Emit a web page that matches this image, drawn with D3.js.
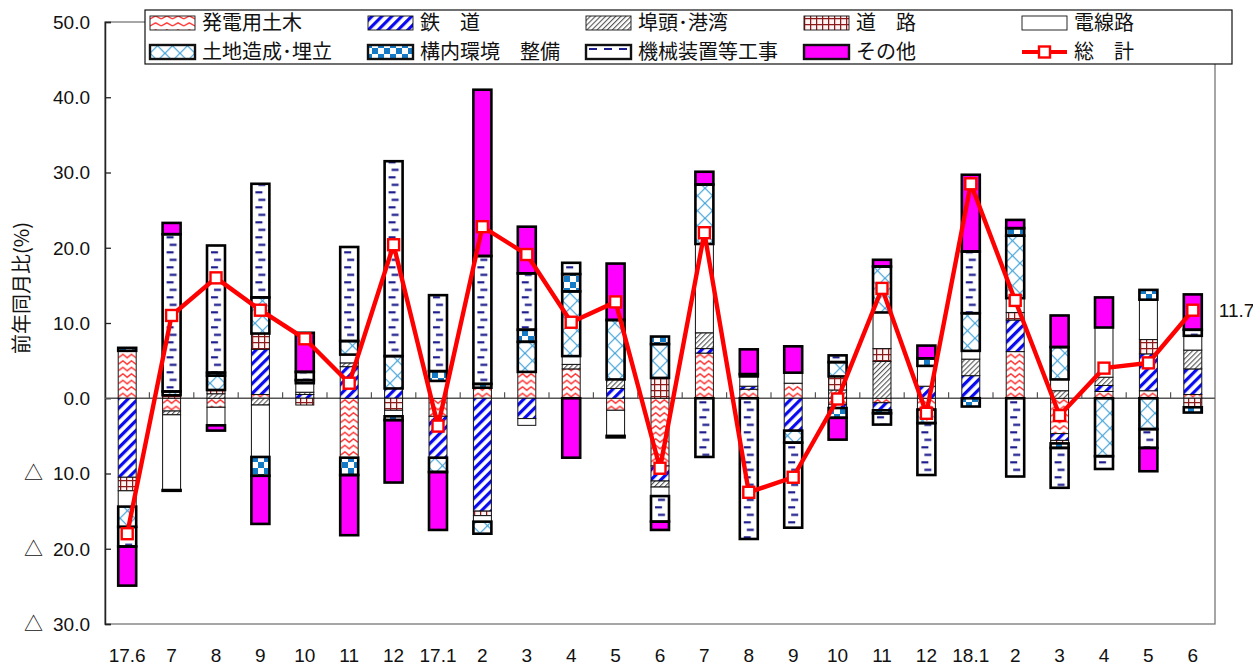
<!DOCTYPE html>
<html>
<head>
<meta charset="utf-8">
<script src="https://cdn.jsdelivr.net/npm/d3@7"></script>
<style>
  body { margin: 0; background: #fff; }
  text { font-family: "Liberation Sans", Arial, sans-serif; }
  .jp { font-family: "Noto Sans CJK JP", "Noto Sans", sans-serif; }
</style>
</head>
<body>
<svg id="chart" width="1253" height="666"></svg>
<script>
// Months on the horizontal axis
const months = ["17.6","7","8","9","10","11","12","17.1","2","3","4","5","6",
                "7","8","9","10","11","12","18.1","2","3","4","5","6"];

// Contribution of each work type to the year-on-year change (%)
const hatsuden = [6.3,-1.7,-1.2,0.5,0,-7.9,0,-2.4,1.4,3.5,3.9,-1.6,-9.0,6.0,1.2,2.0,-0.8,-0.6,-1.5,0,6.2,-4.7,0.9,1.0,0.5];
const tetsudo  = [-10.5,0,0,6.0,0.5,4.2,1.3,-5.5,-15.0,-2.7,0,1.3,-2.0,0.6,0.4,-4.3,-0.5,-1.0,1.6,3.0,4.2,-0.9,0.8,4.9,3.4];
const futo     = [0,-0.5,0.6,-0.9,0.3,0.5,0,0,0,0,0.6,1.2,-0.8,2.1,0,0,1.1,4.9,0,2.2,0,1.0,1.1,0,2.5];
const doro     = [-1.8,0.4,0.5,2.1,-0.9,0,-1.6,0,-0.6,0,0,0,2.7,0,0,0,1.8,1.7,0,0,1.0,-0.4,0,1.9,-1.2];
const densen   = [-2.1,-10.0,-2.4,-6.9,1.2,1.1,-0.8,2.3,-0.8,-0.9,1.1,-3.4,-1.2,11.8,1.3,1.4,0,4.8,2.7,1.1,1.9,1.5,6.6,5.3,1.9];
const tochi    = [-2.7,0.5,1.9,4.8,0.4,1.8,4.3,-1.9,-1.6,4.0,8.6,7.9,4.5,7.9,0,-1.6,1.9,6.1,-1.8,5.0,8.3,4.3,-7.7,-4.1,0];
const konai    = [0.4,-0.1,0.4,-2.5,0,-2.3,-0.5,1.3,0.5,1.6,2.3,0,1.0,0,0.3,0,-1.3,-0.4,1.0,-1.1,1.0,-0.6,0,1.3,-0.7];
const kikai    = [-2.6,20.9,16.9,15.1,1.1,12.5,25.9,10.1,17.0,7.5,1.5,-0.2,-3.4,-7.8,-18.7,-11.3,0.9,-1.5,-6.9,8.2,-10.4,-5.3,-1.7,-2.5,0.8];
const sonota   = [-5.2,1.5,-0.7,-6.4,5.2,-8.0,-8.3,-7.7,22.1,6.2,-7.9,7.5,-1.1,1.7,3.3,3.5,-2.9,0.9,1.7,10.2,1.1,4.2,4.0,-3.1,4.7];

// Overall year-on-year change (%)
const total = [-18.0,11.0,16.0,11.7,7.9,2.0,20.4,-3.7,22.8,19.1,10.1,12.8,-9.3,22.0,-12.5,-10.5,-0.1,14.6,-2.0,28.5,13.0,-2.3,4.0,4.7,11.7];

// Names of the work types, in stacking order
const seriesKeys  = ["hatsuden","tetsudo","futo","doro","densen","tochi","konai","kikai","sonota"];
const seriesNames = ["発電用土木","鉄　道","埠頭･港湾","道　路","電線路","土地造成･埋立","構内環境　整備","機械装置等工事","その他"];
const totalName = "総　計";
const yAxisTitle = "前年同月比(%)";
const yTicks = [50,40,30,20,10,0,-10,-20,-30];

const seriesValues = {hatsuden, tetsudo, futo, doro, densen, tochi, konai, kikai, sonota};
const rows = months.map((m, i) => {
  const r = {month: i};
  seriesKeys.forEach(k => r[k] = seriesValues[k][i]);
  return r;
});

const svg = d3.select("#chart");
const plot = {left: 105, right: 1215, top: 22, bottom: 624};

const x = d3.scaleBand().domain(d3.range(months.length))
  .range([plot.left, plot.right]).paddingInner(0.595).paddingOuter(0.2975);
const step = x.step();
const y = d3.scaleLinear().domain([-30, 50]).range([plot.bottom, plot.top]);
const y0 = y(0);

// ---------- fill patterns ----------
const defs = svg.append("defs");
function pat(id, w, h, opts = {}) {
  const p = defs.append("pattern").attr("id", id)
    .attr("patternUnits", "userSpaceOnUse")
    .attr("width", w).attr("height", h)
    .attr("x", opts.x || 0).attr("y", opts.y || 0);
  if (opts.rotate) p.attr("patternTransform", `rotate(${opts.rotate})`);
  p.append("rect").attr("width", w).attr("height", h).attr("fill", opts.bg || "#fff");
  return p;
}
const barX0 = x(0);

// power-plant civil works: red chevrons, two per bar
pat("p-hatsuden", step, 6.5, {x: barX0, y: y0})
  .append("path").attr("d", "M0.3,5 L4.75,1.6 L9,5 L13.25,1.6 L17.7,5")
  .attr("fill", "none").attr("stroke", "#ff3535").attr("stroke-width", 1.5);
pat("l-hatsuden", 11.25, 7, {x: 150, y: 0})
  .append("path").attr("d", "M0,5 L5.6,1.8 L11.25,5")
  .attr("fill", "none").attr("stroke", "#ff3535").attr("stroke-width", 1.4);

// railway: thick blue diagonal stripes
pat("p-tetsudo", 7, 7, {rotate: 45})
  .append("rect").attr("width", 3.2).attr("height", 7).attr("fill", "#0a0af0");

// harbour: thin grey hatch
pat("p-futo", 3.6, 3.6, {rotate: 45})
  .append("rect").attr("width", 1.1).attr("height", 3.6).attr("fill", "#555");

// roads: dark red brick grid
{
  const p = pat("p-doro", 6, 6, {bg: "#fff4f4"});
  p.append("path").attr("d", "M0,0.6 H6 M0.6,0 V6").attr("stroke", "#8b1a1a").attr("stroke-width", 1.3);
}

// land reclamation: light blue cross-hatch
{
  const p = pat("p-tochi", 15, 15, {y: y0});
  p.append("path").attr("d", "M0,0 L15,15 M15,0 L0,15")
    .attr("stroke", "#3ea0d8").attr("stroke-width", 1.2);
}

// on-site environment: blue checker
{
  const p = pat("p-konai", 12, 12);
  p.append("rect").attr("width", 6).attr("height", 6).attr("fill", "#157ac6");
  p.append("rect").attr("x", 6).attr("y", 6).attr("width", 6).attr("height", 6).attr("fill", "#157ac6");
}

// machinery installation: navy dashes
{
  const p = pat("p-kikai", step, 15, {x: barX0, y: y0});
  p.append("rect").attr("x", 4).attr("y", 3).attr("width", 7).attr("height", 2.2).attr("fill", "#1c1c8c");
  p.append("rect").attr("x", 7).attr("y", 10.5).attr("width", 7).attr("height", 2.2).attr("fill", "#1c1c8c");
  const l = pat("l-kikai", 15, 14, {x: 150, y: 0});
  l.append("rect").attr("x", 4).attr("y", 6).attr("width", 8).attr("height", 2).attr("fill", "#1c1c8c");
}

const fills = {
  hatsuden: "url(#p-hatsuden)", tetsudo: "url(#p-tetsudo)", futo: "url(#p-futo)",
  doro: "url(#p-doro)", densen: "#ffffff", tochi: "url(#p-tochi)",
  konai: "url(#p-konai)", kikai: "url(#p-kikai)", sonota: "#ff00ff"
};
const legendFills = Object.assign({}, fills, {hatsuden: "url(#l-hatsuden)", kikai: "url(#l-kikai)"});
const thick = new Set(["tochi","konai","kikai","sonota"]);

// ---------- frame and axes ----------
svg.append("rect").attr("x", plot.left).attr("y", plot.top)
  .attr("width", plot.right - plot.left).attr("height", plot.bottom - plot.top)
  .attr("fill", "none").attr("stroke", "#777").attr("stroke-width", 1.3);

const yAxis = d3.axisLeft(y).tickValues(yTicks).tickSize(-6).tickPadding(0).tickFormat("");
svg.append("g").attr("transform", `translate(${plot.left},0)`).call(yAxis)
  .call(g => g.select(".domain").attr("stroke", "#222").attr("stroke-width", 1.5))
  .call(g => g.selectAll(".tick line").attr("stroke", "#222").attr("stroke-width", 1.3));

// y tick labels, negatives written with a triangle
const LABEL_SIZE = 19;
const ylab = svg.append("g");
yTicks.forEach(v => {
  const t = ylab.append("text").attr("y", y(v)).attr("dy", "0.36em")
    .attr("font-size", LABEL_SIZE).attr("fill", "#111");
  if (v < 0) {
    t.attr("x", 24);
    t.append("tspan").attr("class", "jp").text("△");
    t.append("tspan").attr("class", "num").text(" " + d3.format(".1f")(-v));
  } else {
    t.attr("x", 90).attr("text-anchor", "end").text(d3.format(".1f")(v));
  }
});
// right-align the number part of the negative labels
ylab.selectAll("tspan.num").each(function() {
  const w = this.getComputedTextLength();
  d3.select(this).attr("x", 90 - w);
});

svg.append("text").attr("class", "jp")
  .attr("transform", `translate(22,288) rotate(-90)`)
  .attr("text-anchor", "middle").attr("dy", "0.36em").attr("font-size", 20).attr("fill", "#111")
  .text(yAxisTitle);

// zero line with category ticks
const zero = svg.append("g");
zero.append("line").attr("x1", plot.left).attr("x2", plot.right)
  .attr("y1", y0).attr("y2", y0).attr("stroke", "#555").attr("stroke-width", 1.3);
zero.selectAll("line.tk").data(d3.range(1, months.length)).join("line").attr("class", "tk")
  .attr("x1", i => plot.left + i * step).attr("x2", i => plot.left + i * step)
  .attr("y1", y0).attr("y2", y0 - 6).attr("stroke", "#555").attr("stroke-width", 1.2);

// month labels
svg.append("g").selectAll("text").data(months).join("text")
  .attr("x", (d, i) => x(i) + x.bandwidth() / 2).attr("y", 662)
  .attr("text-anchor", "middle").attr("font-size", LABEL_SIZE).attr("fill", "#111")
  .text(d => d);

// ---------- stacked bars ----------
const stacked = d3.stack().keys(seriesKeys).offset(d3.stackOffsetDiverging)(rows);
const bars = svg.append("g");
stacked.forEach(layer => {
  bars.append("g").selectAll("rect")
    .data(layer.filter(d => d[1] !== d[0]))
    .join("rect")
    .attr("x", d => x(d.data.month))
    .attr("y", d => y(Math.max(d[0], d[1])))
    .attr("width", x.bandwidth())
    .attr("height", d => Math.abs(y(d[0]) - y(d[1])))
    .attr("fill", fills[layer.key])
    .attr("stroke", "#111").attr("stroke-width", 1);
});
// heavier outlines drawn on top
stacked.filter(l => thick.has(l.key)).forEach(layer => {
  bars.append("g").selectAll("rect")
    .data(layer.filter(d => d[1] !== d[0]))
    .join("rect")
    .attr("x", d => x(d.data.month))
    .attr("y", d => y(Math.max(d[0], d[1])))
    .attr("width", x.bandwidth())
    .attr("height", d => Math.abs(y(d[0]) - y(d[1])))
    .attr("fill", "none").attr("stroke", "#000").attr("stroke-width", 2.6);
});

// ---------- total line ----------
const cx = i => x(i) + x.bandwidth() / 2;
svg.append("path").datum(total)
  .attr("d", d3.line().x((d, i) => cx(i)).y(d => y(d)))
  .attr("fill", "none").attr("stroke", "#ff0000").attr("stroke-width", 4.4)
  .attr("stroke-linejoin", "miter");
svg.append("g").selectAll("rect").data(total).join("rect")
  .attr("x", (d, i) => cx(i) - 5.5).attr("y", d => y(d) - 5.5)
  .attr("width", 11).attr("height", 11)
  .attr("fill", "#fff").attr("stroke", "#ff0000").attr("stroke-width", 2.4);

svg.append("text").attr("x", cx(total.length - 1) + 26).attr("y", y(total[total.length - 1]))
  .attr("dy", "0.36em").attr("font-size", LABEL_SIZE).attr("fill", "#111")
  .text(d3.format(".1f")(total[total.length - 1]));

// ---------- legend ----------
const lg = svg.append("g");
lg.append("rect").attr("x", 145).attr("y", 10).attr("width", 1087).attr("height", 54)
  .attr("fill", "#fff").attr("stroke", "#111").attr("stroke-width", 1.2);
const legendItems = [
  ...seriesKeys.slice(0, 5).map((k, c) => ({k, name: seriesNames[c], col: c, row: 0})),
  ...seriesKeys.slice(5).map((k, c) => ({k, name: seriesNames[c + 5], col: c, row: 1})),
  {k: "total", name: totalName, col: 4, row: 1}
];
const colX = c => 150 + c * 218;
const rowY = r => 23 + r * 29;
legendItems.forEach(it => {
  const gx = colX(it.col), gy = rowY(it.row);
  if (it.k === "total") {
    lg.append("line").attr("x1", gx).attr("x2", gx + 45).attr("y1", gy).attr("y2", gy)
      .attr("stroke", "#ff0000").attr("stroke-width", 4);
    lg.append("rect").attr("x", gx + 17).attr("y", gy - 5.5).attr("width", 11).attr("height", 11)
      .attr("fill", "#fff").attr("stroke", "#ff0000").attr("stroke-width", 2.4);
  } else {
    lg.append("rect").attr("x", gx).attr("y", gy - 7).attr("width", 45).attr("height", 14)
      .attr("fill", legendFills[it.k])
      .attr("stroke", "#111").attr("stroke-width", thick.has(it.k) ? 2.4 : 0.9);
  }
  lg.append("text").attr("class", "jp").attr("x", gx + 52).attr("y", gy)
    .attr("dy", "0.36em").attr("font-size", 20).attr("fill", "#111").text(it.name);
});
</script>
</body>
</html>
